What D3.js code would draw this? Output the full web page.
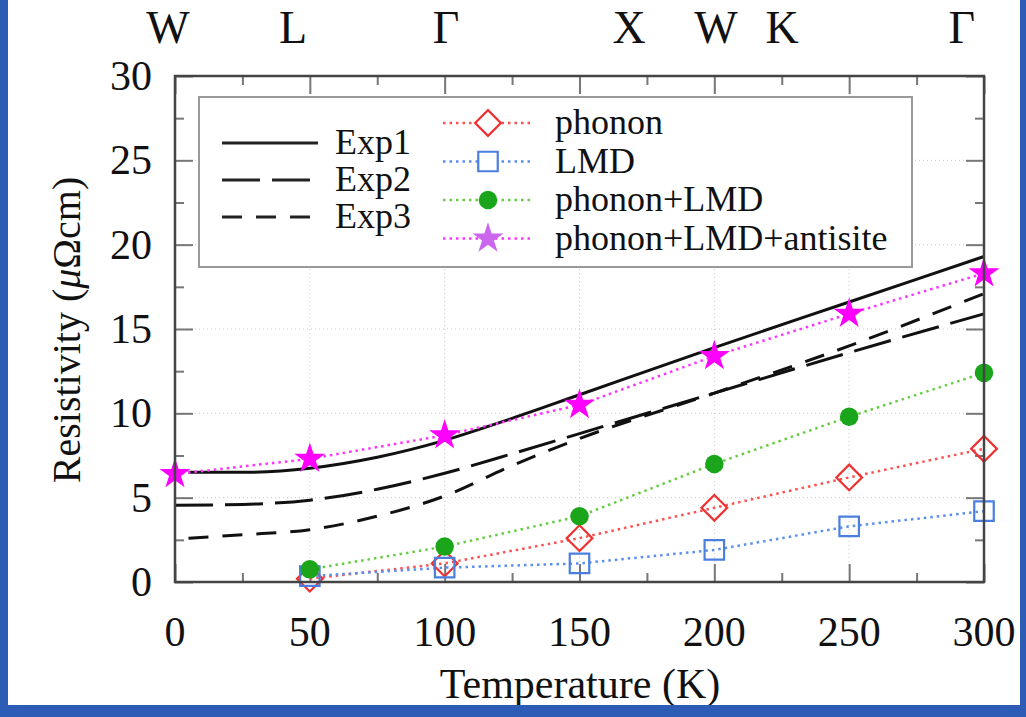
<!DOCTYPE html>
<html>
<head>
<meta charset="utf-8">
<script src="https://cdn.jsdelivr.net/npm/d3@7"></script>
<style>
  html, body { margin: 0; padding: 0; background: #fff; }
  svg { display: block; font-family: "Liberation Serif", "DejaVu Serif", serif; }
</style>
</head>
<body>
<div id="chart"></div>
<script>
// experimental curves (T in K, resistivity in µΩcm)
const exp1T = [5, 25, 50, 75, 100, 125, 150, 200, 250, 300];
const exp1R = [6.5, 6.5, 6.75, 7.4, 8.4, 9.7, 11.1, 13.9, 16.6, 19.3];
const exp2T = [0, 25, 50, 75, 100, 125, 150, 200, 250, 300];
const exp2R = [4.55, 4.6, 4.85, 5.5, 6.45, 7.6, 8.8, 11.2, 13.6, 15.9];
const exp3T = [5, 25, 50, 75, 100, 125, 150, 200, 250, 300];
const exp3R = [2.6, 2.8, 3.1, 3.9, 5.1, 6.9, 8.5, 11.2, 14.0, 17.1];

// calculated points
const calcT = [50, 100, 150, 200, 250, 300];
const phonon = [0.2, 1.1, 2.6, 4.4, 6.2, 7.9];
const lmd = [0.35, 0.85, 1.1, 1.9, 3.3, 4.2];
const phononLmd = [0.75, 2.1, 3.9, 7.0, 9.8, 12.4];
const antisiteT = [0, 50, 100, 150, 200, 250, 300];
const antisite = [6.4, 7.3, 8.7, 10.5, 13.4, 15.9, 18.3];

const xTicks = [0, 50, 100, 150, 200, 250, 300];
const yTicks = [0, 5, 10, 15, 20, 25, 30];
const kLabels = ["W", "L", "Γ", "X", "W", "K", "Γ"];
const kAt = [-2.6, 43.8, 100.5, 168.4, 200.6, 225.1, 291.8];

const W = 1026, H = 717;
const svg = d3.select("#chart").append("svg")
  .attr("width", W).attr("height", H);

const x = d3.scaleLinear().domain([0, 300]).range([175, 984]);
const y = d3.scaleLinear().domain([0, 30]).range([582, 76]);

// grid
const grid = svg.append("g").attr("stroke", "#c8c8c8").attr("stroke-width", 1)
  .attr("stroke-dasharray", "1,3");
grid.selectAll(".gx").data(xTicks.slice(1, -1)).join("line")
  .attr("x1", d => x(d)).attr("x2", d => x(d)).attr("y1", y(0)).attr("y2", y(30));
grid.selectAll(".gy").data(yTicks.slice(1, -1)).join("line")
  .attr("x1", x(0)).attr("x2", x(300)).attr("y1", d => y(d)).attr("y2", d => y(d));

// ticks on all four sides, pointing inward
const minorX = d3.range(25, 300, 50);
const minorY = d3.range(2.5, 30, 5);
const tickG = (axis, tr) => {
  const g = svg.append("g").attr("transform", tr).call(axis);
  g.select(".domain").remove();
  g.selectAll("text").remove();
  g.selectAll("line").attr("stroke", "#777").attr("stroke-width", 2);
};
tickG(d3.axisBottom(x).tickValues(xTicks).tickSize(-18), `translate(0,${y(0)})`);
tickG(d3.axisBottom(x).tickValues(minorX).tickSize(-9), `translate(0,${y(0)})`);
tickG(d3.axisTop(x).tickValues(xTicks).tickSize(-18), `translate(0,${y(30)})`);
tickG(d3.axisTop(x).tickValues(minorX).tickSize(-9), `translate(0,${y(30)})`);
tickG(d3.axisLeft(y).tickValues(yTicks).tickSize(-18), `translate(${x(0)},0)`);
tickG(d3.axisLeft(y).tickValues(minorY).tickSize(-9), `translate(${x(0)},0)`);
tickG(d3.axisRight(y).tickValues(yTicks).tickSize(-18), `translate(${x(300)},0)`);
tickG(d3.axisRight(y).tickValues(minorY).tickSize(-9), `translate(${x(300)},0)`);

// tick labels
svg.append("g").selectAll("text").data(xTicks).join("text")
  .attr("x", d => x(d)).attr("y", 646).attr("text-anchor", "middle")
  .attr("font-size", 42).attr("fill", "#111").text(d => d);
svg.append("g").selectAll("text").data(yTicks).join("text")
  .attr("x", 152).attr("y", d => y(d) + 14).attr("text-anchor", "end")
  .attr("font-size", 42).attr("fill", "#111").text(d => d);

// top k-point labels
svg.append("g").selectAll("text").data(kLabels).join("text")
  .attr("x", (d, i) => x(kAt[i])).attr("y", 43).attr("text-anchor", "middle")
  .attr("font-size", 46).attr("fill", "#111").text(d => d);

// axis titles
svg.append("text").attr("x", 580).attr("y", 698).attr("text-anchor", "middle")
  .attr("font-size", 42).attr("fill", "#111").text("Temperature (K)");
const yt = svg.append("text").attr("transform", "translate(80,330) rotate(-90)")
  .attr("text-anchor", "middle").attr("font-size", 40).attr("fill", "#111");
yt.append("tspan").text("Resistivity (");
yt.append("tspan").attr("font-style", "italic").text("μ");
yt.append("tspan").text("Ωcm)");

// legend box
const lg = svg.append("g");
lg.append("rect").attr("x", 199).attr("y", 97).attr("width", 713).attr("height", 170)
  .attr("fill", "#fff").attr("stroke", "#999").attr("stroke-width", 2);

// experimental lines
const line = d3.line().x(d => x(d[0])).y(d => y(d[1])).curve(d3.curveMonotoneX);
const exps = [
  { name: "Exp1", T: exp1T, R: exp1R, dash: null },
  { name: "Exp2", T: exp2T, R: exp2R, dash: "38,12" },
  { name: "Exp3", T: exp3T, R: exp3R, dash: "20,14" }
];
exps.forEach(e => {
  svg.append("path").datum(e.T.map((t, i) => [t, e.R[i]]))
    .attr("d", line).attr("fill", "none").attr("stroke", "#111")
    .attr("stroke-width", 3).attr("stroke-dasharray", e.dash);
});

// calculated series
const series = [
  { name: "phonon", T: calcT, R: phonon, color: "#f03030", line: "#ff5050",
    sym: d3.symbolSquare, size: 330, rot: 45, fill: "none" },
  { name: "LMD", T: calcT, R: lmd, color: "#4a7fe0", line: "#5a8ef0",
    sym: d3.symbolSquare, size: 380, rot: 0, fill: "none" },
  { name: "phonon+LMD", T: calcT, R: phononLmd, color: "#1aa51a", line: "#66cc44",
    sym: d3.symbolCircle, size: 270, rot: 0, fill: "#1aa51a" },
  { name: "phonon+LMD+antisite", T: antisiteT, R: antisite, color: "#ff00ff", line: "#ff33ff",
    sym: d3.symbolStar, size: 300, rot: 0, fill: "#ff00ff" }
];
const straight = d3.line().x(d => x(d[0])).y(d => y(d[1]));
series.forEach(s => {
  const pts = s.T.map((t, i) => [t, s.R[i]]);
  svg.append("path").datum(pts).attr("d", straight).attr("fill", "none")
    .attr("stroke", s.line).attr("stroke-width", 2.5).attr("stroke-dasharray", "2.5,4");
  svg.append("g").selectAll("path").data(pts).join("path")
    .attr("d", d3.symbol(s.sym, s.size))
    .attr("transform", d => `translate(${x(d[0])},${y(d[1])}) rotate(${s.rot})`)
    .attr("fill", s.fill).attr("stroke", s.fill === "none" ? s.color : "none")
    .attr("stroke-width", 2.2);
});

// legend entries
exps.forEach((e, i) => {
  const ly = 143 + i * 37;
  lg.append("line").attr("x1", 222).attr("x2", 318).attr("y1", ly).attr("y2", ly)
    .attr("stroke", "#222").attr("stroke-width", 3).attr("stroke-dasharray", e.dash);
  lg.append("text").attr("x", 335).attr("y", ly + 11).attr("font-size", 36)
    .attr("fill", "#111").text(e.name);
});
series.forEach((s, i) => {
  const ly = 123 + i * 38.5;
  lg.append("line").attr("x1", 443).attr("x2", 533).attr("y1", ly).attr("y2", ly)
    .attr("stroke", s.line).attr("stroke-width", 2.5).attr("stroke-dasharray", "2.5,4");
  lg.append("path").attr("d", d3.symbol(s.sym, s.size))
    .attr("transform", `translate(488,${ly}) rotate(${s.rot})`)
    .attr("fill", s.fill === "none" ? "#fff" : (i === 3 ? "#cc66ee" : s.fill))
    .attr("stroke", s.fill === "none" ? s.color : "none").attr("stroke-width", 2.2);
  lg.append("text").attr("x", 555).attr("y", ly + 11).attr("font-size", 36)
    .attr("fill", "#111").text(s.name);
});

// plot frame
svg.append("rect").attr("x", x(0)).attr("y", y(30))
  .attr("width", x(300) - x(0)).attr("height", y(0) - y(30))
  .attr("fill", "none").attr("stroke", "#444").attr("stroke-width", 2.5);

// blue page border
const blue = "#2d5cb6";
svg.append("rect").attr("x", 0).attr("y", 0).attr("width", 8).attr("height", H).attr("fill", blue);
svg.append("rect").attr("x", W - 6).attr("y", 0).attr("width", 6).attr("height", H).attr("fill", blue);
svg.append("rect").attr("x", 0).attr("y", 705).attr("width", W).attr("height", H - 705).attr("fill", blue);
</script>
</body>
</html>
